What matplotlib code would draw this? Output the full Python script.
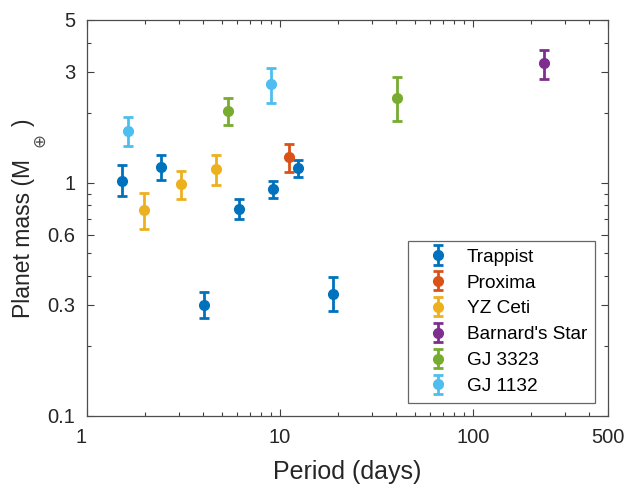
import matplotlib
matplotlib.use('Agg')
import matplotlib.pyplot as plt
from matplotlib.ticker import LogLocator, NullFormatter, FixedLocator, FixedFormatter

plt.rcParams['font.family'] = ['Liberation Sans', 'DejaVu Sans']

# planet periods (days), masses (Earth masses) and asymmetric errors
trappist_p = [1.51, 2.42, 4.05, 6.10, 9.21, 12.35, 18.77]
trappist_m = [1.02, 1.17, 0.30, 0.776, 0.94, 1.16, 0.333]
trappist_lo = [0.14, 0.14, 0.036, 0.076, 0.08, 0.10, 0.051]
trappist_hi = [0.17, 0.15, 0.04, 0.08, 0.08, 0.10, 0.06]

proxima_p = [11.19]
proxima_m = [1.29]
proxima_lo = [0.18]
proxima_hi = [0.18]

yzceti_p = [1.97, 3.06, 4.66]
yzceti_m = [0.765, 0.99, 1.15]
yzceti_lo = [0.13, 0.14, 0.17]
yzceti_hi = [0.14, 0.14, 0.17]

barnard_p = [232.8]
barnard_m = [3.26]
barnard_lo = [0.46]
barnard_hi = [0.44]

gj3323_p = [5.36, 40.54]
gj3323_m = [2.04, 2.32]
gj3323_lo = [0.26, 0.47]
gj3323_hi = [0.27, 0.52]

gj1132_p = [1.63, 8.93]
gj1132_m = [1.67, 2.66]
gj1132_lo = [0.23, 0.45]
gj1132_hi = [0.24, 0.44]

names = ['Trappist', 'Proxima', 'YZ Ceti', "Barnard's Star", 'GJ 3323', 'GJ 1132']
colors = ['#0072BD', '#D95319', '#EDB120', '#7E2F8E', '#77AC30', '#4DBEEE']
series = [
    (trappist_p, trappist_m, trappist_lo, trappist_hi),
    (proxima_p, proxima_m, proxima_lo, proxima_hi),
    (yzceti_p, yzceti_m, yzceti_lo, yzceti_hi),
    (barnard_p, barnard_m, barnard_lo, barnard_hi),
    (gj3323_p, gj3323_m, gj3323_lo, gj3323_hi),
    (gj1132_p, gj1132_m, gj1132_lo, gj1132_hi),
]

xtick_vals = [1, 10, 100, 500]
xtick_txt = ['1', '10', '100', '500']
ytick_vals = [0.1, 0.3, 0.6, 1, 3, 5]
ytick_txt = ['0.1', '0.3', '0.6', '1', '3', '5']

W, H = 627, 484
fig = plt.figure(figsize=(W / 100, H / 100), dpi=100)
ax = fig.add_axes([0.1388, 0.1405, 0.8309, 0.8182])

for (p, m, lo, hi), name, c in zip(series, names, colors):
    ax.errorbar(p, m, yerr=[lo, hi], fmt='o', color=c, ms=7, lw=2,
                capsize=3.6, capthick=2, label=name)

ax.set_xscale('log')
ax.set_yscale('log')
ax.set_xlim(1, 500)
ax.set_ylim(0.1, 5)

ax.xaxis.set_major_locator(FixedLocator(xtick_vals))
ax.xaxis.set_major_formatter(FixedFormatter(xtick_txt))
ax.xaxis.set_minor_locator(LogLocator(base=10, subs=range(2, 10)))
ax.xaxis.set_minor_formatter(NullFormatter())

ax.yaxis.set_major_locator(FixedLocator(ytick_vals))
ax.yaxis.set_major_formatter(FixedFormatter(ytick_txt))
ax.yaxis.set_minor_locator(LogLocator(base=10, subs=range(2, 10)))
ax.yaxis.set_minor_formatter(NullFormatter())

ax.tick_params(which='both', direction='in', top=True, right=True,
               color='0.25', labelcolor='0.15', labelsize=14.5, width=0.8)
ax.tick_params(which='major', length=5)
ax.tick_params(which='minor', length=3)
ax.tick_params(axis='x', pad=9)
ax.tick_params(axis='y', pad=8.5)
for s in ax.spines.values():
    s.set_color('0.3')
    s.set_linewidth(0.9)

# first x label sits left of its tick
fig.canvas.draw()
ax.get_xticklabels()[0].set_horizontalalignment('right')

ax.set_xlabel('Period (days)', fontsize=18, color='0.15', labelpad=9)

# y label: text, a big subscript earth symbol, closing bracket
lab_kw = dict(rotation=90, rotation_mode='anchor', ha='left', va='baseline',
              fontsize=16.5, color='0.15')
fig.text(30 / W, 1 - 318 / H, 'Planet mass (M', **lab_kw)
fig.text(30 / W, 1 - 126 / H, ')', **lab_kw)
fig.text(39 / W, 1 - 140 / H, '\u2295', rotation=90, ha='center', va='center',
         fontsize=12, color='0.3', family='DejaVu Sans')

leg = ax.legend(loc='lower right', fontsize=13.7, frameon=True, fancybox=False,
                edgecolor='0.25', borderaxespad=0.7, handlelength=2.4,
                handletextpad=0.3, labelspacing=0.45, borderpad=0.4)
leg.get_frame().set_linewidth(0.9)

fig.savefig('out.png', dpi=100)
